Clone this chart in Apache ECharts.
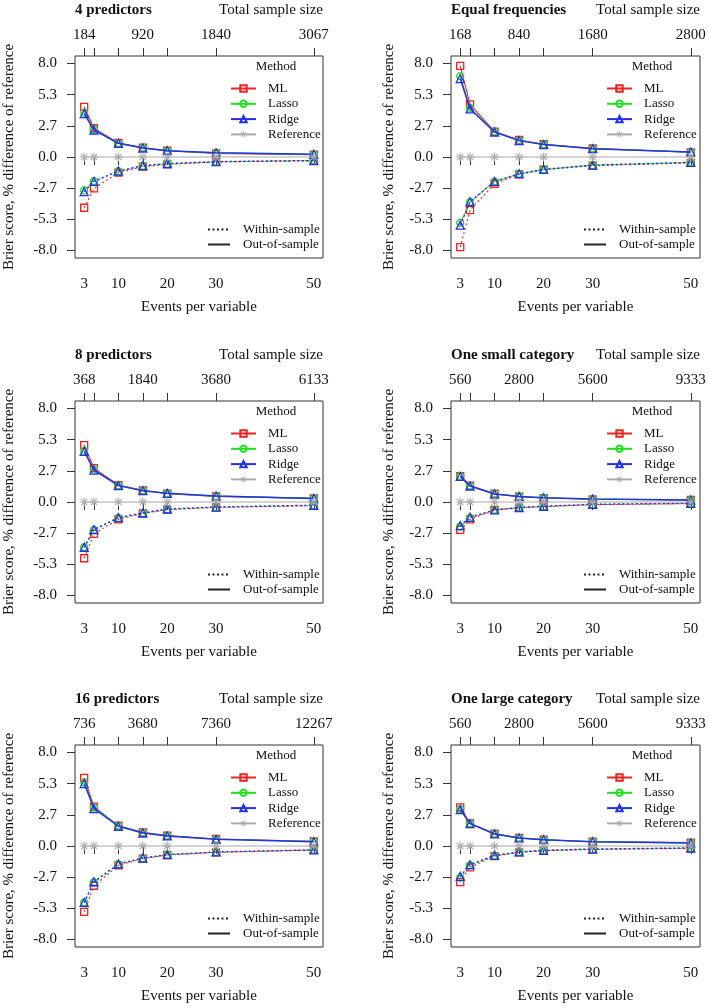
<!DOCTYPE html>
<html>
<head>
<meta charset="utf-8">
<script src="https://cdn.jsdelivr.net/npm/echarts@6/dist/echarts.min.js"></script>
<style>
html, body { margin: 0; padding: 0; background: #fff; }
#chart { width: 709px; height: 1008px; }
</style>
</head>
<body>
<div id="chart"></div>
<script>
// x positions (events per variable) and tick labels
const epv = [3, 5, 10, 15, 20, 30, 50];
const xLabelEpv = [3, 10, 20, 30, 50];
const topLabelEpv = [3, 15, 30, 50];
const yTicks = [-8.0, -5.33, -2.67, 0, 2.67, 5.33, 8.0];
const refValues = [0, 0, 0, 0, 0, 0, 0];

const titles = ['4 predictors', 'Equal frequencies', '8 predictors', 'One small category', '16 predictors', 'One large category'];

// total sample size labels at topLabelEpv
const sizes4 = [184, 920, 1840, 3067];
const sizesEq = [168, 840, 1680, 2800];
const sizes8 = [368, 1840, 3680, 6133];
const sizesSmall = [560, 2800, 5600, 9333];
const sizes16 = [736, 3680, 7360, 12267];
const sizesLarge = [560, 2800, 5600, 9333];

// 4 predictors
const p4MlOut = [4.29, 2.46, 1.2, 0.8, 0.54, 0.31, 0.2];
const p4LassoOut = [3.8, 2.37, 1.17, 0.78, 0.54, 0.35, 0.22];
const p4RidgeOut = [3.71, 2.31, 1.17, 0.77, 0.54, 0.37, 0.23];
const p4MlIn = [-4.34, -2.69, -1.34, -0.83, -0.63, -0.42, -0.3];
const p4LassoIn = [-2.86, -2.06, -1.22, -0.76, -0.58, -0.4, -0.31];
const p4RidgeIn = [-2.97, -2.09, -1.2, -0.74, -0.57, -0.4, -0.31];

// Equal frequencies
const eqMlOut = [7.8, 4.51, 2.17, 1.46, 1.09, 0.74, 0.4];
const eqLassoOut = [6.91, 4.2, 2.14, 1.42, 1.07, 0.72, 0.42];
const eqRidgeOut = [6.71, 4.11, 2.14, 1.4, 1.06, 0.71, 0.43];
const eqMlIn = [-7.71, -4.54, -2.29, -1.49, -1.09, -0.74, -0.51];
const eqLassoIn = [-5.63, -3.85, -2.1, -1.44, -1.07, -0.7, -0.47];
const eqRidgeIn = [-5.83, -3.83, -2.09, -1.43, -1.06, -0.69, -0.46];

// 8 predictors
const p8MlOut = [4.87, 2.9, 1.45, 1.0, 0.71, 0.48, 0.31];
const p8LassoOut = [4.38, 2.79, 1.42, 0.98, 0.73, 0.5, 0.31];
const p8RidgeOut = [4.33, 2.73, 1.4, 0.97, 0.74, 0.51, 0.31];
const p8MlIn = [-4.81, -2.73, -1.48, -0.97, -0.66, -0.46, -0.31];
const p8LassoIn = [-3.87, -2.39, -1.36, -0.95, -0.62, -0.44, -0.29];
const p8RidgeIn = [-3.87, -2.36, -1.34, -0.94, -0.6, -0.43, -0.28];

// One small category
const smMlOut = [2.22, 1.4, 0.71, 0.46, 0.34, 0.23, 0.17];
const smLassoOut = [2.2, 1.38, 0.69, 0.47, 0.36, 0.25, 0.17];
const smRidgeOut = [2.19, 1.37, 0.68, 0.48, 0.37, 0.26, 0.17];
const smMlIn = [-2.39, -1.48, -0.68, -0.48, -0.4, -0.23, -0.14];
const smLassoIn = [-2.1, -1.35, -0.68, -0.47, -0.38, -0.21, -0.12];
const smRidgeIn = [-2.02, -1.31, -0.68, -0.47, -0.37, -0.2, -0.11];

// 16 predictors
const p16MlOut = [5.83, 3.37, 1.74, 1.17, 0.89, 0.6, 0.4];
const p16LassoOut = [5.43, 3.29, 1.71, 1.13, 0.87, 0.58, 0.38];
const p16RidgeOut = [5.34, 3.2, 1.69, 1.11, 0.86, 0.57, 0.37];
const p16MlIn = [-5.63, -3.4, -1.66, -1.09, -0.77, -0.54, -0.34];
const p16LassoIn = [-4.83, -3.1, -1.56, -1.04, -0.75, -0.52, -0.34];
const p16RidgeIn = [-4.83, -3.06, -1.54, -1.03, -0.74, -0.51, -0.34];

// One large category
const lgMlOut = [3.31, 1.94, 1.06, 0.69, 0.54, 0.37, 0.29];
const lgLassoOut = [3.15, 1.92, 1.04, 0.69, 0.54, 0.37, 0.27];
const lgRidgeOut = [3.11, 1.91, 1.03, 0.69, 0.54, 0.37, 0.26];
const lgMlIn = [-3.09, -1.83, -0.86, -0.54, -0.4, -0.29, -0.2];
const lgLassoIn = [-2.7, -1.65, -0.82, -0.52, -0.38, -0.27, -0.18];
const lgRidgeIn = [-2.6, -1.6, -0.8, -0.51, -0.37, -0.26, -0.17];

const panels = [
  { sizes: sizes4, ml: [p4MlOut, p4MlIn], lasso: [p4LassoOut, p4LassoIn], ridge: [p4RidgeOut, p4RidgeIn] },
  { sizes: sizesEq, ml: [eqMlOut, eqMlIn], lasso: [eqLassoOut, eqLassoIn], ridge: [eqRidgeOut, eqRidgeIn] },
  { sizes: sizes8, ml: [p8MlOut, p8MlIn], lasso: [p8LassoOut, p8LassoIn], ridge: [p8RidgeOut, p8RidgeIn] },
  { sizes: sizesSmall, ml: [smMlOut, smMlIn], lasso: [smLassoOut, smLassoIn], ridge: [smRidgeOut, smRidgeIn] },
  { sizes: sizes16, ml: [p16MlOut, p16MlIn], lasso: [p16LassoOut, p16LassoIn], ridge: [p16RidgeOut, p16RidgeIn] },
  { sizes: sizesLarge, ml: [lgMlOut, lgMlIn], lasso: [lgLassoOut, lgLassoIn], ridge: [lgRidgeOut, lgRidgeIn] }
];

// layout
const boxes = [
  { left: 75, top: 56, width: 248, height: 202 },
  { left: 451, top: 56, width: 249, height: 202 },
  { left: 75, top: 401, width: 248, height: 202 },
  { left: 451, top: 401, width: 249, height: 202 },
  { left: 75, top: 745, width: 248, height: 202 },
  { left: 451, top: 745, width: 249, height: 202 }
];

const FONT = '"Liberation Serif", "Times New Roman", serif';
const RED = '#ee2222', GREEN = '#22dd22', BLUE = '#2233e6', GRAY = '#aaaaaa';
// asterisk made of four thin filled bars
const STAR = 'path://M-0.6,-5L0.6,-5L0.6,5L-0.6,5Z' +
  'M-5,-0.6L5,-0.6L5,0.6L-5,0.6Z' +
  'M-3.12,-3.96L3.96,3.12L3.12,3.96L-3.96,-3.12Z' +
  'M-3.12,3.96L3.96,-3.12L3.12,-3.96L-3.96,3.12Z';

const methods = [
  { name: 'ML', color: RED, symbol: 'rect', size: 7, width: 1.1, z: 4 },
  { name: 'Lasso', color: GREEN, symbol: 'circle', size: 7, width: 1.1, z: 5 },
  { name: 'Ridge', color: BLUE, symbol: 'triangle', size: 8, width: 1.5, z: 6 },
  { name: 'Reference', color: GRAY, symbol: STAR, size: 9, width: 1.2, z: 7 }
];

const toPairs = vals => epv.map((x, i) => [x, vals[i]]);

let grid = [], xAxis = [], yAxis = [], series = [], legend = [], graphic = [];

boxes.forEach((b, p) => {
  grid.push({ left: b.left, top: b.top, width: b.width, height: b.height, show: true,
    borderColor: '#333', borderWidth: 1, backgroundColor: '#fff' });

  let sizes = panels[p].sizes;
  xAxis.push({
    type: 'value', gridIndex: p, position: 'bottom', min: 1.12, max: 51.88,
    axisLine: { show: false }, splitLine: { show: false },
    axisTick: { show: true, customValues: epv, length: 8, lineStyle: { color: '#333' } },
    axisLabel: { customValues: xLabelEpv, margin: 19, color: '#111', fontFamily: FONT, fontSize: 15 },
    name: 'Events per variable', nameLocation: 'middle', nameGap: 42,
    nameTextStyle: { fontFamily: FONT, fontSize: 15, color: '#111' }
  });
  xAxis.push({
    type: 'value', gridIndex: p, position: 'top', min: 1.12, max: 51.88,
    axisLine: { show: false }, splitLine: { show: false },
    axisTick: { show: true, customValues: epv, length: 8, lineStyle: { color: '#333' } },
    axisLabel: { customValues: topLabelEpv, margin: 13, color: '#111', fontFamily: FONT, fontSize: 15,
      formatter: v => String(sizes[topLabelEpv.indexOf(v)]) }
  });
  yAxis.push({
    type: 'value', gridIndex: p, min: -8.64, max: 8.64,
    axisLine: { show: false }, splitLine: { show: false },
    axisTick: { show: true, customValues: yTicks, length: 8, lineStyle: { color: '#333' } },
    axisLabel: { customValues: yTicks, margin: 18, color: '#111', fontFamily: FONT, fontSize: 15,
      formatter: v => v.toFixed(1) },
    name: 'Brier score, % difference of reference', nameLocation: 'middle', nameGap: p % 2 ? 54 : 58,
    nameTextStyle: { fontFamily: FONT, fontSize: 15, color: '#111' }
  });

  methods.forEach(m => {
    let isRef = m.name === 'Reference';
    let pair = isRef ? [refValues] : panels[p][m.name.toLowerCase()];
    pair.forEach((vals, k) => {
      series.push({
        name: k === 0 ? m.name : m.name + ' (within)',
        type: 'line', xAxisIndex: 2 * p, yAxisIndex: p,
        data: toPairs(vals),
        symbol: m.symbol, symbolSize: m.size, showAllSymbol: true,
        itemStyle: isRef ? { color: GRAY, borderWidth: 0 }
          : { color: 'transparent', borderColor: m.color, borderWidth: 1.3 },
        lineStyle: { color: m.color, width: m.width, type: k === 0 ? 'solid' : [2, 2.5] },
        emphasis: { disabled: true }, z: m.z
      });
    });
  });

  legend.push({
    left: b.left + 155, top: b.top + 26, orient: 'vertical', padding: 0,
    itemWidth: 25, itemHeight: 8, itemGap: 2.3, selectedMode: false,
    data: ['ML', 'Lasso', 'Ridge', 'Reference'],
    textStyle: { fontFamily: FONT, fontSize: 13, lineHeight: 13, color: '#111', padding: [0, 0, 0, 7] }
  });
  legend.push({
    left: b.left + 132, top: b.top + 167, orient: 'vertical', padding: 0,
    itemWidth: 22, itemHeight: 8, itemGap: 2, selectedMode: false,
    data: [
      { name: 'Within-sample', itemStyle: { color: 'transparent', borderColor: 'transparent' } },
      { name: 'Out-of-sample', itemStyle: { color: 'transparent', borderColor: 'transparent' } }
    ],
    textStyle: { fontFamily: FONT, fontSize: 13, lineHeight: 13, color: '#111', padding: [0, 0, 0, 8] }
  });

  graphic.push({ type: 'text', x: b.left, y: b.top - 46,
    style: { text: titles[p], font: 'bold 15px ' + FONT, fill: '#111', align: 'left', verticalAlign: 'middle' } });
  graphic.push({ type: 'text', x: b.left + b.width, y: b.top - 46,
    style: { text: 'Total sample size', font: '15px ' + FONT, fill: '#111', align: 'right', verticalAlign: 'middle' } });
  graphic.push({ type: 'text', x: b.left + 201, y: b.top + 11,
    style: { text: 'Method', font: '13px ' + FONT, fill: '#111', align: 'center', verticalAlign: 'middle' } });
});

// legend-only entries for line type
series.push({ name: 'Within-sample', type: 'line', xAxisIndex: 0, yAxisIndex: 0, data: [], symbol: 'none',
  itemStyle: { color: 'transparent', borderColor: 'transparent' },
  lineStyle: { color: '#222', width: 1.3, type: [2, 2.5] } });
series.push({ name: 'Out-of-sample', type: 'line', xAxisIndex: 0, yAxisIndex: 0, data: [], symbol: 'none',
  itemStyle: { color: 'transparent', borderColor: 'transparent' },
  lineStyle: { color: '#222', width: 1.3, type: 'solid' } });

let myChart = echarts.init(document.getElementById('chart'));
myChart.setOption({
  animation: false,
  backgroundColor: '#fff',
  grid: grid,
  xAxis: xAxis,
  yAxis: yAxis,
  legend: legend,
  graphic: graphic,
  series: series
});
</script>
</body>
</html>
